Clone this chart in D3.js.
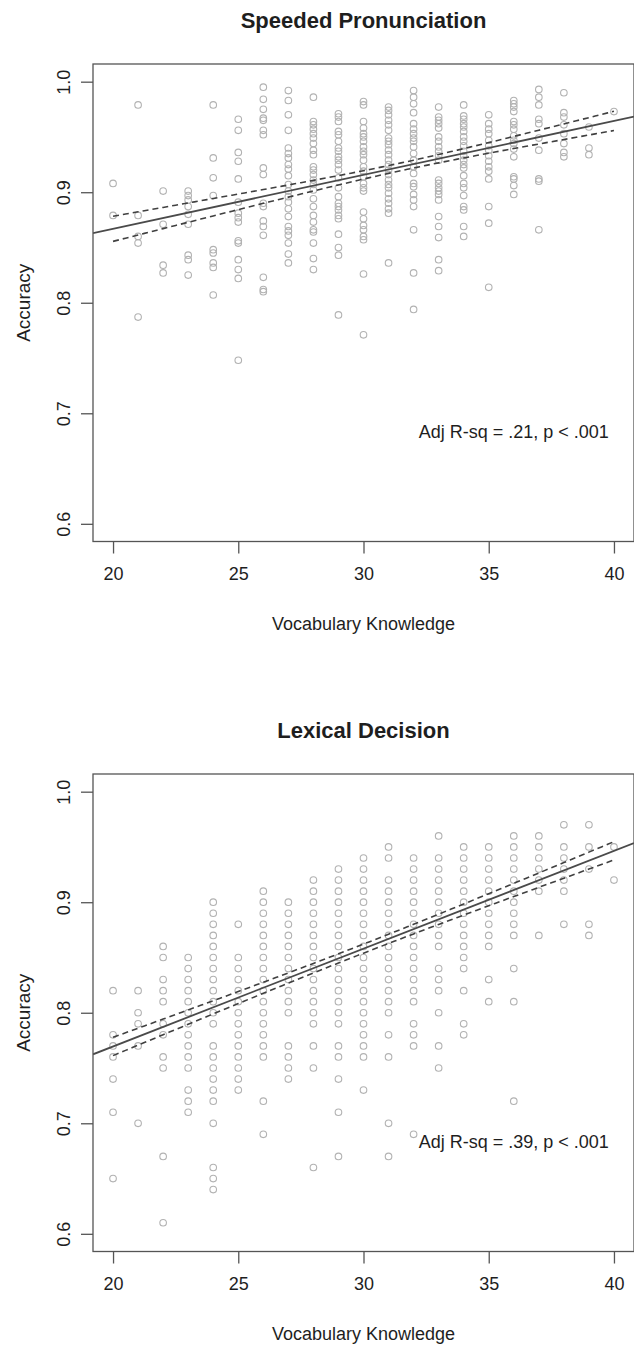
<!DOCTYPE html>
<html>
<head>
<meta charset="utf-8">
<script src="https://cdn.jsdelivr.net/npm/d3@7"></script>
<style>
  body { margin: 0; background: #fff; }
  svg { display: block; }
  text { font-family: "Liberation Sans", Arial, Helvetica, sans-serif; fill: #1e1e1e; }
</style>
</head>
<body>
<svg id="chart" width="634" height="1347"></svg>
<script>
// Vocabulary knowledge scores (x categories)
const vocabScores = [20, 21, 22, 23, 24, 25, 26, 27, 28, 29, 30, 31, 32, 33, 34, 35, 36, 37, 38, 39, 40];

// Speeded pronunciation accuracy, one list per vocabulary score
const pronunciationAccuracy = [
  [0.908, 0.879],
  [0.979, 0.879, 0.860, 0.854, 0.787],
  [0.901, 0.871, 0.834, 0.827],
  [0.901, 0.897, 0.893, 0.887, 0.880, 0.871, 0.843, 0.839, 0.825],
  [0.979, 0.931, 0.913, 0.897, 0.848, 0.845, 0.836, 0.832, 0.807],
  [0.966, 0.956, 0.936, 0.928, 0.912, 0.891, 0.881, 0.877, 0.873, 0.856, 0.854, 0.839, 0.830, 0.822, 0.748],
  [0.995, 0.984, 0.975, 0.967, 0.965, 0.956, 0.952, 0.922, 0.916, 0.890, 0.887, 0.874, 0.869, 0.861, 0.823, 0.812, 0.810],
  [0.992, 0.983, 0.970, 0.956, 0.940, 0.935, 0.931, 0.925, 0.921, 0.915, 0.907, 0.901, 0.896, 0.891, 0.885, 0.878, 0.869, 0.865, 0.861, 0.854, 0.844, 0.836],
  [0.986, 0.964, 0.961, 0.957, 0.953, 0.949, 0.944, 0.938, 0.934, 0.923, 0.920, 0.916, 0.911, 0.907, 0.902, 0.894, 0.887, 0.879, 0.873, 0.866, 0.864, 0.854, 0.840, 0.830],
  [0.971, 0.968, 0.964, 0.955, 0.952, 0.946, 0.940, 0.937, 0.932, 0.929, 0.925, 0.920, 0.913, 0.904, 0.896, 0.890, 0.887, 0.884, 0.879, 0.876, 0.862, 0.850, 0.843, 0.789],
  [0.982, 0.979, 0.964, 0.958, 0.953, 0.950, 0.946, 0.941, 0.937, 0.934, 0.929, 0.923, 0.919, 0.914, 0.908, 0.904, 0.901, 0.882, 0.876, 0.870, 0.866, 0.860, 0.857, 0.826, 0.771],
  [0.977, 0.974, 0.970, 0.965, 0.961, 0.956, 0.949, 0.946, 0.943, 0.938, 0.934, 0.929, 0.925, 0.920, 0.916, 0.911, 0.907, 0.904, 0.899, 0.894, 0.890, 0.885, 0.881, 0.836],
  [0.992, 0.986, 0.980, 0.972, 0.962, 0.957, 0.953, 0.949, 0.946, 0.941, 0.935, 0.929, 0.923, 0.917, 0.908, 0.905, 0.898, 0.893, 0.887, 0.866, 0.827, 0.794],
  [0.977, 0.968, 0.965, 0.962, 0.958, 0.950, 0.946, 0.941, 0.937, 0.933, 0.929, 0.911, 0.908, 0.904, 0.901, 0.898, 0.893, 0.878, 0.869, 0.859, 0.839, 0.829],
  [0.979, 0.969, 0.966, 0.962, 0.959, 0.955, 0.950, 0.946, 0.942, 0.937, 0.933, 0.929, 0.925, 0.922, 0.915, 0.908, 0.904, 0.897, 0.887, 0.884, 0.869, 0.860],
  [0.970, 0.962, 0.957, 0.953, 0.947, 0.942, 0.938, 0.933, 0.928, 0.923, 0.919, 0.912, 0.887, 0.872, 0.814],
  [0.983, 0.980, 0.977, 0.973, 0.964, 0.961, 0.957, 0.951, 0.947, 0.944, 0.939, 0.932, 0.914, 0.912, 0.906, 0.898],
  [0.993, 0.986, 0.979, 0.966, 0.962, 0.949, 0.938, 0.912, 0.910, 0.866],
  [0.990, 0.972, 0.968, 0.961, 0.953, 0.944, 0.936, 0.932],
  [0.959, 0.940, 0.934],
  [0.973]
];

// Lexical decision accuracy, one list per vocabulary score
const lexicalAccuracy = [
  [0.82, 0.78, 0.77, 0.76, 0.74, 0.71, 0.65],
  [0.82, 0.80, 0.79, 0.77, 0.70],
  [0.86, 0.85, 0.83, 0.82, 0.81, 0.79, 0.78, 0.76, 0.75, 0.67, 0.61],
  [0.85, 0.84, 0.83, 0.82, 0.81, 0.80, 0.79, 0.78, 0.77, 0.76, 0.75, 0.73, 0.72, 0.71],
  [0.90, 0.89, 0.88, 0.87, 0.86, 0.85, 0.84, 0.83, 0.82, 0.81, 0.80, 0.79, 0.77, 0.76, 0.75, 0.74, 0.73, 0.72, 0.70, 0.66, 0.65, 0.64],
  [0.88, 0.85, 0.84, 0.83, 0.82, 0.81, 0.80, 0.79, 0.78, 0.77, 0.76, 0.75, 0.74, 0.73],
  [0.91, 0.90, 0.89, 0.88, 0.87, 0.86, 0.85, 0.84, 0.83, 0.82, 0.81, 0.80, 0.79, 0.78, 0.77, 0.76, 0.72, 0.69],
  [0.90, 0.89, 0.88, 0.87, 0.86, 0.85, 0.84, 0.83, 0.82, 0.81, 0.80, 0.77, 0.76, 0.75, 0.74],
  [0.92, 0.91, 0.90, 0.89, 0.88, 0.87, 0.86, 0.85, 0.84, 0.83, 0.82, 0.81, 0.80, 0.79, 0.77, 0.75, 0.66],
  [0.93, 0.92, 0.91, 0.90, 0.89, 0.88, 0.87, 0.86, 0.85, 0.84, 0.83, 0.82, 0.81, 0.80, 0.79, 0.77, 0.76, 0.74, 0.71, 0.67],
  [0.94, 0.93, 0.92, 0.91, 0.90, 0.89, 0.88, 0.87, 0.86, 0.85, 0.84, 0.83, 0.82, 0.81, 0.80, 0.79, 0.78, 0.77, 0.76, 0.73],
  [0.95, 0.94, 0.92, 0.91, 0.90, 0.89, 0.88, 0.87, 0.86, 0.85, 0.84, 0.83, 0.82, 0.81, 0.80, 0.78, 0.76, 0.70, 0.67],
  [0.94, 0.93, 0.92, 0.91, 0.90, 0.89, 0.88, 0.87, 0.86, 0.85, 0.84, 0.83, 0.82, 0.81, 0.79, 0.78, 0.77, 0.69],
  [0.96, 0.94, 0.93, 0.92, 0.91, 0.90, 0.89, 0.88, 0.87, 0.86, 0.84, 0.83, 0.82, 0.80, 0.77, 0.75],
  [0.95, 0.94, 0.93, 0.92, 0.91, 0.90, 0.89, 0.88, 0.87, 0.86, 0.85, 0.84, 0.82, 0.79, 0.78],
  [0.95, 0.94, 0.93, 0.92, 0.91, 0.90, 0.89, 0.88, 0.87, 0.86, 0.83, 0.81],
  [0.96, 0.95, 0.94, 0.93, 0.92, 0.91, 0.90, 0.89, 0.88, 0.87, 0.84, 0.81, 0.72],
  [0.96, 0.95, 0.94, 0.93, 0.92, 0.91, 0.87],
  [0.97, 0.95, 0.94, 0.93, 0.92, 0.91, 0.88],
  [0.97, 0.95, 0.93, 0.88, 0.87],
  [0.95, 0.92]
];

// Panel titles and fit annotations
const panelTitles = ["Speeded Pronunciation", "Lexical Decision"];
const fitLabels = ["Adj R-sq = .21, p < .001", "Adj R-sq = .39, p < .001"];
const fitLabelPos = [36, 0.683];            // [vocabulary, accuracy] of label centre

// Linear fits: intercept, slope, mean x, CI half-width at mean, CI growth per unit x
const fitIntercept = [0.7693, 0.5925];
const fitSlope = [0.00488, 0.00885];
const fitXMean = [31.5, 30];
const ciAtMean = [0.0035, 0.0041];
const ciPerUnit = [0.00094, 0.00072];
const ciRange = [20, 40];

// Axis ticks
const xTicks = [20, 25, 30, 35, 40];
const yTicks = [0.6, 0.7, 0.8, 0.9, 1.0];
const xAxisTitle = "Vocabulary Knowledge";
const yAxisTitle = "Accuracy";

const svg = d3.select("#chart");
svg.append("rect").attr("width", 634).attr("height", 1347).attr("fill", "#fff");

const box = { left: 93, right: 634, top: 64, bottom: 541.5 };
const panelShift = 710;

const x = d3.scaleLinear().domain([19.2, 40.8]).range([box.left, box.right]);
const y = d3.scaleLinear().domain([0.584, 1.016]).range([box.bottom, box.top]);

const axisColor = "#555";

function drawPanel(i, accuracy) {
  const g = svg.append("g").attr("transform", `translate(0,${i * panelShift})`);

  // title
  g.append("text")
    .attr("x", (box.left + box.right) / 2)
    .attr("y", 28)
    .attr("text-anchor", "middle")
    .attr("font-size", 22)
    .attr("font-weight", "bold")
    .text(panelTitles[i]);

  // points
  const pts = [];
  vocabScores.forEach((v, k) => accuracy[k].forEach(a => pts.push([v, a])));
  g.append("g").selectAll("circle").data(pts).join("circle")
    .attr("cx", d => x(d[0]))
    .attr("cy", d => y(d[1]))
    .attr("r", 3.3)
    .attr("fill", "none")
    .attr("stroke", "#b2b2b2")
    .attr("stroke-width", 1.1);

  const clipId = "clip" + i;
  g.append("clipPath").attr("id", clipId)
    .append("rect").attr("x", box.left).attr("y", box.top)
    .attr("width", box.right - box.left).attr("height", box.bottom - box.top);

  const fit = xv => fitIntercept[i] + fitSlope[i] * xv;
  const half = xv => Math.sqrt(ciAtMean[i] ** 2 + (ciPerUnit[i] * (xv - fitXMean[i])) ** 2);

  // regression line across the plot region
  g.append("line")
    .attr("clip-path", `url(#${clipId})`)
    .attr("x1", x(19.2)).attr("y1", y(fit(19.2)))
    .attr("x2", x(40.8)).attr("y2", y(fit(40.8)))
    .attr("stroke", "#4a4a4a").attr("stroke-width", 1.8);

  // confidence band over observed range
  const xs = d3.range(ciRange[0], ciRange[1] + 0.001, 0.25);
  const line = d3.line().x(d => x(d[0])).y(d => y(d[1]));
  [1, -1].forEach(sgn => {
    g.append("path")
      .attr("d", line(xs.map(xv => [xv, fit(xv) + sgn * half(xv)])))
      .attr("fill", "none")
      .attr("stroke", "#404040")
      .attr("stroke-width", 1.6)
      .attr("stroke-dasharray", "6,4");
  });

  // frame
  g.append("rect")
    .attr("x", box.left).attr("y", box.top)
    .attr("width", box.right - box.left).attr("height", box.bottom - box.top)
    .attr("fill", "none").attr("stroke", axisColor).attr("stroke-width", 1.3);

  // x axis
  const gx = g.append("g").attr("transform", `translate(0,${box.bottom})`)
    .call(d3.axisBottom(x).tickValues(xTicks).tickSize(12).tickFormat(d3.format("d")));
  gx.select(".domain").remove();
  gx.selectAll(".tick line").attr("stroke", axisColor).attr("stroke-width", 1.3);
  gx.selectAll(".tick text")
    .attr("y", 38).attr("dy", null)
    .attr("font-size", 18)
    .attr("font-family", "Liberation Sans, Arial, sans-serif")
    .attr("fill", "#1e1e1e");

  // y axis
  const gy = g.append("g").attr("transform", `translate(${box.left},0)`)
    .call(d3.axisLeft(y).tickValues(yTicks).tickSize(12).tickFormat(d3.format(".1f")));
  gy.select(".domain").remove();
  gy.selectAll(".tick line").attr("stroke", axisColor).attr("stroke-width", 1.3);
  gy.selectAll(".tick text")
    .attr("x", null).attr("dy", null)
    .attr("transform", "translate(-23,0) rotate(-90)")
    .attr("text-anchor", "middle")
    .attr("font-size", 18)
    .attr("font-family", "Liberation Sans, Arial, sans-serif")
    .attr("fill", "#1e1e1e");

  // axis titles
  g.append("text")
    .attr("x", (box.left + box.right) / 2)
    .attr("y", 630)
    .attr("text-anchor", "middle")
    .attr("font-size", 18)
    .text(xAxisTitle);

  g.append("text")
    .attr("transform", `translate(30,${(box.top + box.bottom) / 2}) rotate(-90)`)
    .attr("text-anchor", "middle")
    .attr("font-size", 19)
    .text(yAxisTitle);

  // fit annotation
  g.append("text")
    .attr("x", x(fitLabelPos[0]))
    .attr("y", y(fitLabelPos[1]))
    .attr("dy", "0.32em")
    .attr("text-anchor", "middle")
    .attr("font-size", 18)
    .text(fitLabels[i]);
}

drawPanel(0, pronunciationAccuracy);
drawPanel(1, lexicalAccuracy);
</script>
</body>
</html>
